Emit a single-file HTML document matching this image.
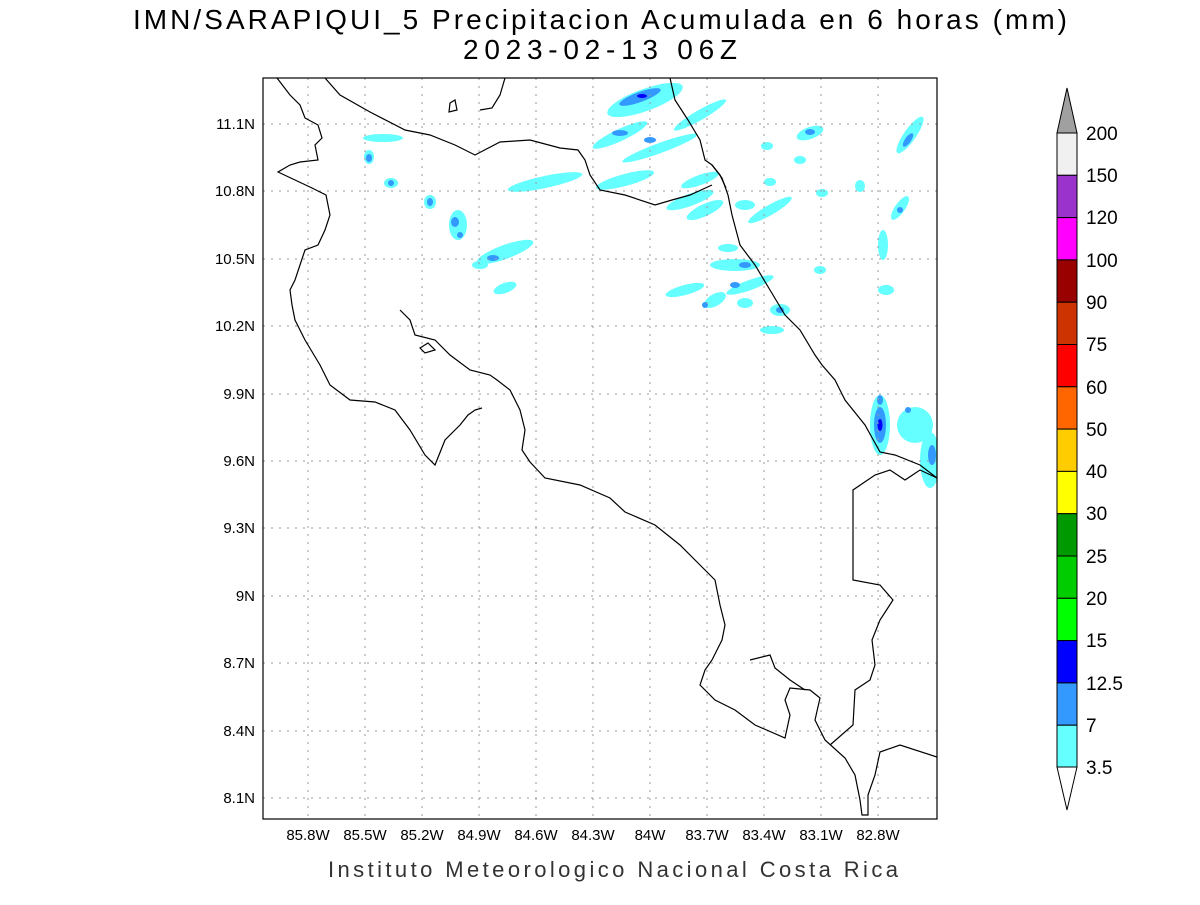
<!DOCTYPE html>
<html><head><style>
body{margin:0;background:#fff;width:1200px;height:900px;overflow:hidden}
svg text{font-family:"Liberation Sans",sans-serif}
</style></head><body>
<svg width="1200" height="900" xmlns="http://www.w3.org/2000/svg">
<rect width="1200" height="900" fill="#fff"/>
<text x="133" y="29" font-size="28" textLength="934" lengthAdjust="spacing">IMN/SARAPIQUI_5 Precipitacion Acumulada en 6 horas (mm)</text>
<text x="463" y="59" font-size="28" textLength="274" lengthAdjust="spacing">2023-02-13 06Z</text>
<defs><clipPath id="c"><rect x="263" y="78" width="674" height="741"/></clipPath></defs>
<g clip-path="url(#c)">
<g fill="#66ffff">
<ellipse cx="645" cy="100" rx="40" ry="11" transform="rotate(-20 645 100)"/>
<ellipse cx="620" cy="135" rx="30" ry="6" transform="rotate(-25 620 135)"/>
<ellipse cx="700" cy="115" rx="30" ry="5" transform="rotate(-30 700 115)"/>
<ellipse cx="660" cy="148" rx="40" ry="5" transform="rotate(-20 660 148)"/>
<ellipse cx="545" cy="182" rx="38" ry="6" transform="rotate(-12 545 182)"/>
<ellipse cx="625" cy="180" rx="30" ry="6" transform="rotate(-15 625 180)"/>
<ellipse cx="700" cy="180" rx="20" ry="5" transform="rotate(-20 700 180)"/>
<ellipse cx="690" cy="200" rx="25" ry="6" transform="rotate(-20 690 200)"/>
<ellipse cx="705" cy="210" rx="20" ry="6" transform="rotate(-25 705 210)"/>
<ellipse cx="745" cy="205" rx="10" ry="5"/>
<ellipse cx="770" cy="210" rx="25" ry="5" transform="rotate(-30 770 210)"/>
<ellipse cx="810" cy="133" rx="14" ry="6" transform="rotate(-20 810 133)"/>
<ellipse cx="767" cy="146" rx="6" ry="4"/>
<ellipse cx="800" cy="160" rx="6" ry="4"/>
<ellipse cx="770" cy="182" rx="6" ry="4"/>
<ellipse cx="822" cy="193" rx="6" ry="4"/>
<ellipse cx="860" cy="186" rx="5" ry="6"/>
<ellipse cx="910" cy="135" rx="22" ry="6" transform="rotate(-55 910 135)"/>
<ellipse cx="900" cy="208" rx="14" ry="5" transform="rotate(-55 900 208)"/>
<ellipse cx="883" cy="245" rx="5" ry="15"/>
<ellipse cx="886" cy="290" rx="8" ry="5"/>
<ellipse cx="383" cy="138" rx="20" ry="4"/>
<ellipse cx="369" cy="157" rx="5" ry="7"/>
<ellipse cx="391" cy="183" rx="7" ry="5"/>
<ellipse cx="430" cy="202" rx="6" ry="7"/>
<ellipse cx="458" cy="225" rx="9" ry="15"/>
<ellipse cx="505" cy="252" rx="30" ry="7" transform="rotate(-20 505 252)"/>
<ellipse cx="480" cy="265" rx="8" ry="4"/>
<ellipse cx="505" cy="288" rx="12" ry="5" transform="rotate(-20 505 288)"/>
<ellipse cx="735" cy="265" rx="25" ry="6"/>
<ellipse cx="750" cy="285" rx="25" ry="5" transform="rotate(-20 750 285)"/>
<ellipse cx="685" cy="290" rx="20" ry="5" transform="rotate(-15 685 290)"/>
<ellipse cx="715" cy="300" rx="12" ry="6" transform="rotate(-30 715 300)"/>
<ellipse cx="728" cy="248" rx="10" ry="4"/>
<ellipse cx="745" cy="303" rx="8" ry="5"/>
<ellipse cx="780" cy="310" rx="10" ry="6"/>
<ellipse cx="772" cy="330" rx="12" ry="4"/>
<ellipse cx="820" cy="270" rx="6" ry="4"/>
<ellipse cx="880" cy="425" rx="10" ry="30"/>
<ellipse cx="915" cy="425" rx="18" ry="18"/>
<ellipse cx="930" cy="460" rx="10" ry="28"/>
</g>
<g fill="#3399ff">
<ellipse cx="640" cy="97" rx="22" ry="5" transform="rotate(-20 640 97)"/>
<ellipse cx="620" cy="133" rx="8" ry="3"/>
<ellipse cx="650" cy="140" rx="6" ry="3"/>
<ellipse cx="810" cy="132" rx="5" ry="3"/>
<ellipse cx="908" cy="140" rx="8" ry="3" transform="rotate(-55 908 140)"/>
<ellipse cx="900" cy="210" rx="3" ry="3"/>
<ellipse cx="369" cy="158" rx="3" ry="4"/>
<ellipse cx="391" cy="183" rx="3" ry="3"/>
<ellipse cx="430" cy="202" rx="3" ry="4"/>
<ellipse cx="455" cy="222" rx="4" ry="5"/>
<ellipse cx="460" cy="235" rx="3" ry="3"/>
<ellipse cx="493" cy="258" rx="6" ry="3"/>
<ellipse cx="745" cy="265" rx="6" ry="3"/>
<ellipse cx="735" cy="285" rx="5" ry="3"/>
<ellipse cx="705" cy="305" rx="3" ry="3"/>
<ellipse cx="780" cy="310" rx="4" ry="3"/>
<ellipse cx="880" cy="425" rx="6" ry="18"/>
<ellipse cx="880" cy="400" rx="3" ry="5"/>
<ellipse cx="908" cy="410" rx="3" ry="3"/>
<ellipse cx="932" cy="455" rx="4" ry="10"/>
</g>
<ellipse cx="880" cy="425" rx="2.5" ry="6" fill="#0000ff"/>
<ellipse cx="642" cy="96" rx="5" ry="2" fill="#0000ff"/>
</g>
<g stroke="#999" stroke-width="1" stroke-dasharray="2,6">
<line x1="308" y1="78" x2="308" y2="819"/><line x1="365" y1="78" x2="365" y2="819"/><line x1="422" y1="78" x2="422" y2="819"/><line x1="479" y1="78" x2="479" y2="819"/><line x1="536" y1="78" x2="536" y2="819"/><line x1="593" y1="78" x2="593" y2="819"/><line x1="650" y1="78" x2="650" y2="819"/><line x1="707" y1="78" x2="707" y2="819"/><line x1="764" y1="78" x2="764" y2="819"/><line x1="821" y1="78" x2="821" y2="819"/><line x1="878" y1="78" x2="878" y2="819"/>
<line x1="263" y1="124" x2="937" y2="124"/><line x1="263" y1="191" x2="937" y2="191"/><line x1="263" y1="259" x2="937" y2="259"/><line x1="263" y1="326" x2="937" y2="326"/><line x1="263" y1="394" x2="937" y2="394"/><line x1="263" y1="461" x2="937" y2="461"/><line x1="263" y1="528" x2="937" y2="528"/><line x1="263" y1="596" x2="937" y2="596"/><line x1="263" y1="663" x2="937" y2="663"/><line x1="263" y1="731" x2="937" y2="731"/><line x1="263" y1="798" x2="937" y2="798"/>
</g>
<g clip-path="url(#c)" fill="none" stroke="#000" stroke-width="1.2">
<polyline points="277,78 290,95 300,105 305,118 318,125 322,138 315,145 318,160 300,162 290,165 278,172 295,180 312,188 326,195 330,215 325,230 318,245 305,250 300,265 295,280 290,290 292,305 295,320 305,340 320,365 330,385 350,400 375,402 395,410 410,430 425,455 435,465 445,440 460,425 468,415 475,410 482,408"/>
<polyline points="400,310 410,320 415,335 435,340 450,355 470,370 490,375 497,380 510,390 520,410 525,430 522,450 530,462 545,478 580,485 610,498 625,512 655,525 680,545 700,565 715,580 720,605 725,625 722,640 712,660 705,670 700,685 715,700 735,710 755,725 785,738 790,715 785,700 790,688 810,690 820,698 815,720 825,740 845,758 855,775 860,800 862,815 868,815 868,795 875,775 880,752 900,745 937,757"/>
<polyline points="750,660 770,655 775,668 790,680 805,690"/>
<polyline points="830,745 853,725 855,690 870,680 875,665 872,640 880,620 893,600 880,585 853,580 853,490 875,475 890,470 905,480 920,470 937,478"/>
<polyline points="937,478 920,465 895,455 880,452 865,425 845,400 835,380 822,365 815,355 800,330 785,315 770,290 755,265 740,245 732,215 728,195 722,178 712,165"/>
<polyline points="670,78 675,100 688,120 700,140 705,160 712,165 720,175 726,188"/>
<polyline points="325,78 340,95 370,112 405,130 430,135 455,145 475,155 500,142 530,140 560,148 578,150 585,160 590,175 600,190 625,195 655,205 672,200 690,195 712,185"/>
<polyline points="505,78 500,95 492,108 480,110"/>
<polygon points="420,348 428,343 435,350 425,353"/>
<polygon points="450,103 455,100 457,110 449,112"/>
</g>
<rect x="263" y="78" width="674" height="741" fill="none" stroke="#000" stroke-width="1.2"/>
<g font-size="15" text-anchor="end">
<text x="255" y="129">11.1N</text><text x="255" y="196">10.8N</text><text x="255" y="264">10.5N</text><text x="255" y="331">10.2N</text><text x="255" y="399">9.9N</text><text x="255" y="466">9.6N</text><text x="255" y="533">9.3N</text><text x="255" y="601">9N</text><text x="255" y="668">8.7N</text><text x="255" y="736">8.4N</text><text x="255" y="803">8.1N</text>
</g>
<g font-size="15" text-anchor="middle">
<text x="308" y="840">85.8W</text><text x="365" y="840">85.5W</text><text x="422" y="840">85.2W</text><text x="479" y="840">84.9W</text><text x="536" y="840">84.6W</text><text x="593" y="840">84.3W</text><text x="650" y="840">84W</text><text x="707" y="840">83.7W</text><text x="764" y="840">83.4W</text><text x="821" y="840">83.1W</text><text x="878" y="840">82.8W</text>
</g>
<text x="328" y="877" font-size="22" fill="#333" textLength="570" lengthAdjust="spacing">Instituto Meteorologico Nacional Costa Rica</text>
<g stroke="#000" stroke-width="1">
<polygon points="1057,133 1077,133 1067,88" fill="#a0a0a0"/>
<rect x="1057" y="133" width="20" height="42.3" fill="#f0f0f0"/>
<rect x="1057" y="175.3" width="20" height="42.3" fill="#9933cc"/>
<rect x="1057" y="217.6" width="20" height="42.3" fill="#ff00ff"/>
<rect x="1057" y="259.9" width="20" height="42.3" fill="#990000"/>
<rect x="1057" y="302.2" width="20" height="42.3" fill="#cc3300"/>
<rect x="1057" y="344.5" width="20" height="42.3" fill="#ff0000"/>
<rect x="1057" y="386.8" width="20" height="42.3" fill="#ff6600"/>
<rect x="1057" y="429.1" width="20" height="42.3" fill="#ffcc00"/>
<rect x="1057" y="471.4" width="20" height="42.3" fill="#ffff00"/>
<rect x="1057" y="513.7" width="20" height="42.3" fill="#009900"/>
<rect x="1057" y="556" width="20" height="42.3" fill="#00cc00"/>
<rect x="1057" y="598.3" width="20" height="42.3" fill="#00ff00"/>
<rect x="1057" y="640.6" width="20" height="42.3" fill="#0000ff"/>
<rect x="1057" y="682.9" width="20" height="42.3" fill="#3399ff"/>
<rect x="1057" y="725.2" width="20" height="41.8" fill="#66ffff"/>
<polygon points="1057,767 1077,767 1067,810" fill="#fff"/>
</g>
<g font-size="19">
<text x="1086" y="140">200</text><text x="1086" y="182">150</text><text x="1086" y="224">120</text><text x="1086" y="267">100</text><text x="1086" y="309">90</text><text x="1086" y="351">75</text><text x="1086" y="394">60</text><text x="1086" y="436">50</text><text x="1086" y="478">40</text><text x="1086" y="520">30</text><text x="1086" y="563">25</text><text x="1086" y="605">20</text><text x="1086" y="647">15</text><text x="1086" y="690">12.5</text><text x="1086" y="732">7</text><text x="1086" y="774">3.5</text>
</g>
</svg>
</body></html>
